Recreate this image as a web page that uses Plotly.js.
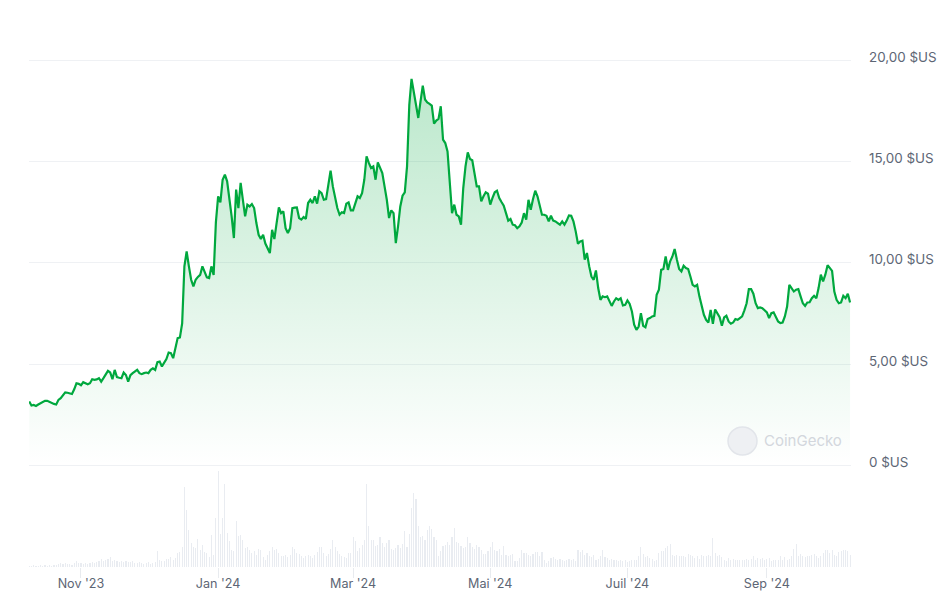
<!DOCTYPE html>
<html>
<head>
<meta charset="utf-8">
<script src="https://cdn.plot.ly/plotly-3.0.1.min.js"></script>
<style>
html,body{margin:0;padding:0;background:#fff;}
#chart{width:950px;height:611px;}
</style>
</head>
<body>
<div id="chart"></div>
<script>
// Daily series starting 2023-10-09
const startDate = '2023-10-09';
const dayMs = 86400000;

const prices = [
3.15,2.95,2.98,2.93,3.00,3.06,3.12,3.18,3.18,3.12,3.06,3.03,3.00,3.23,3.31,3.45,3.60,3.58,3.56,3.52,
3.75,4.05,4.02,3.95,4.10,4.05,4.00,4.05,4.25,4.22,4.24,4.30,4.13,4.30,4.46,4.66,4.58,4.25,4.71,4.35,
4.32,4.30,4.58,4.46,4.13,4.45,4.55,4.63,4.71,4.55,4.50,4.55,4.58,4.55,4.71,4.79,4.71,5.09,5.12,4.88,
5.04,5.24,5.57,5.54,5.29,5.78,6.28,6.31,7.00,9.82,10.56,9.82,9.16,8.83,9.16,9.30,9.40,9.82,9.57,9.28,
9.24,9.82,9.40,12.00,13.28,12.98,14.10,14.35,14.02,13.28,12.29,11.22,13.61,12.70,13.94,13.11,12.29,12.87,12.78,12.90,
12.70,11.96,11.38,11.17,11.38,10.95,10.70,10.48,11.63,11.17,11.96,12.73,12.45,12.54,11.71,11.47,11.71,12.70,12.72,12.73,
12.21,12.13,12.26,12.17,12.95,13.11,12.95,13.28,12.92,13.53,13.44,13.11,13.14,13.77,14.55,13.77,13.20,12.70,12.37,12.49,
12.45,12.92,12.98,12.59,12.59,12.95,13.28,13.20,13.44,14.10,15.26,14.93,14.68,14.76,14.10,14.96,14.68,14.43,13.77,13.11,
12.21,12.59,12.45,10.97,11.80,12.78,13.31,13.48,14.76,17.80,19.08,18.50,17.89,17.15,17.97,18.75,18.06,17.92,17.85,17.76,
16.87,17.02,17.10,17.73,16.08,15.91,15.50,13.94,12.45,12.87,12.37,12.29,11.88,13.69,14.76,15.45,15.12,15.06,14.43,13.77,
13.77,13.03,13.28,13.48,13.41,12.87,13.20,13.48,13.56,13.20,13.00,12.82,12.45,12.08,12.16,11.88,11.85,11.71,11.80,11.99,
12.45,12.13,13.11,12.62,13.14,13.56,13.28,12.87,12.37,12.37,12.32,12.04,12.32,12.08,12.04,11.96,11.88,12.04,11.88,12.08,
12.34,12.32,12.04,11.55,10.94,11.05,11.09,10.15,10.48,9.82,9.32,9.16,9.62,8.75,8.17,8.34,8.30,8.34,8.09,7.87,
8.09,8.25,8.17,8.25,7.89,7.92,8.14,7.97,7.59,6.94,6.69,6.85,7.51,6.89,6.82,7.22,7.27,7.35,7.38,8.42,
8.67,9.65,9.69,10.31,9.65,10.07,10.31,10.68,10.15,9.69,9.57,9.85,9.74,9.69,9.32,8.91,8.83,8.91,8.34,7.84,
7.43,7.18,7.05,7.67,6.98,7.69,7.48,7.31,6.89,7.30,7.38,7.10,6.99,7.05,7.22,7.18,7.27,7.35,7.65,8.00,
8.70,8.70,8.47,8.00,7.76,7.79,7.76,7.64,7.55,7.27,7.51,7.55,7.35,7.10,7.02,7.05,7.35,7.84,8.91,8.75,
8.58,8.67,8.70,8.34,8.00,7.87,8.04,8.05,8.25,8.37,8.25,8.75,9.41,9.08,9.41,9.88,9.74,9.60,8.58,8.17,
8.00,8.04,8.37,8.25,8.47,8.04
];

// Relative trading volume (arbitrary units)
const volumes = [
1,1,1.5,1,1,1.5,1,1.5,1,1.5,1,2,2,3,4,3,4,3,3,2,
4,6,4,4,3,4,3,4,5,4,5,6,8,6,7,8,10,6,7,6,
5,6,5,6,5,5,6,4,4,5,4,3,4,5,3,4,5,16,7,6,
6,8,8,10,7,9,14,15,20,80,57,37,24,20,19,28,17,22,15,14,
10,32,12,49,96,33,49,83,34,26,17,16,46,31,32,27,19,20,17,14,
16,12,18,17,10,7,12,16,20,17,18,14,11,11,12,10,12,20,18,14,
13,11,9,11,12,11,9,12,15,20,20,14,11,13,18,27,20,16,13,11,
10,9,14,14,30,26,16,19,22,27,83,41,27,27,21,22,30,24,20,24,
27,18,17,19,22,19,23,36,20,33,59,74,68,41,30,31,27,37,41,38,
30,27,11,16,21,22,25,22,30,39,25,24,21,19,20,30,24,20,18,22,
20,17,13,13,16,20,25,17,16,18,12,21,12,11,12,13,6,6,9,17,
14,14,12,11,13,15,15,11,15,7,4,6,9,10,8,7,8,7,6,7,
8,7,8,6,17,15,17,12,14,11,10,12,7,8,11,17,10,9,7,8,
7,7,6,7,6,7,5,6,7,7,7,11,20,13,10,11,9,8,6,7,
14,16,16,19,21,23,12,11,12,11,11,11,10,13,12,11,9,11,8,12,
11,11,12,11,29,14,11,12,10,7,6,9,7,8,7,7,7,7,7,8,
7,8,11,7,9,8,9,7,8,9,6,7,7,7,11,7,10,7,8,11,
18,23,11,13,11,10,11,11,12,13,11,9,11,14,17,17,14,17,12,11,
15,16,17,17,16,12
];

const tickDates = ['2023-11-01','2024-01-01','2024-03-01','2024-05-01','2024-07-01','2024-09-01'];
const tickLabels = ["Nov '23","Jan '24","Mar '24","Mai '24","Juil '24","Sep '24"];
const priceTicks = [0,5,10,15,20];
const priceTickLabels = ['0 $US','5,00 $US','10,00 $US','15,00 $US','20,00 $US'];

const textColor = '#5d6675';
const fontFam = 'Inter, "Noto Sans", sans-serif';

const priceTrace = {
  type: 'scatter', mode: 'lines',
  x0: startDate, dx: dayMs, y: prices,
  xaxis: 'x', yaxis: 'y',
  line: {color: '#00a83e', width: 2.2},
  fill: 'tozeroy',
  fillgradient: {
    type: 'vertical', start: 0, stop: 20,
    colorscale: [[0, 'rgba(0,168,62,0.0)'], [1, 'rgba(0,168,62,0.28)']]
  },
  hoverinfo: 'skip'
};

const volTrace = {
  type: 'bar',
  x0: startDate, dx: dayMs, y: volumes,
  xaxis: 'x', yaxis: 'y2',
  width: dayMs * 0.5,
  marker: {color: '#e9ecf1', line: {width: 0}},
  hoverinfo: 'skip'
};

const layout = {
  width: 950, height: 611,
  margin: {l: 29, r: 99, t: 40, b: 44},
  paper_bgcolor: '#ffffff', plot_bgcolor: '#ffffff',
  showlegend: false,
  font: {family: fontFam, color: textColor, size: 13},
  bargap: 0,
  xaxis: {
    type: 'date', anchor: 'y2',
    range: ['2023-10-08 21:30', '2024-10-08 10:00'],
    tickvals: tickDates, ticktext: tickLabels,
    showgrid: false, zeroline: false, showline: false,
    ticks: 'outside', ticklen: 10, tickcolor: '#e8ebef', tickwidth: 1,
    ticklabelstandoff: -5,
    tickfont: {family: fontFam, size: 12.6, color: textColor}
  },
  yaxis: {
    domain: [0.1892, 1], range: [-0.1, 21], side: 'right', anchor: 'x',
    tickvals: priceTicks, ticktext: priceTickLabels,
    showgrid: true, gridcolor: '#eff1f4', gridwidth: 1,
    zeroline: false, showline: false, ticks: '',
    ticklabelstandoff: 17, ticklabelshift: -3,
    tickfont: {family: fontFam, size: 13.4, color: textColor}
  },
  yaxis2: {
    domain: [0, 0.188], range: [0, 99], anchor: 'x',
    showgrid: false, zeroline: false, showline: false,
    showticklabels: false, ticks: ''
  },
  shapes: [
    {type: 'circle', xref: 'paper', yref: 'paper',
     x0: (728-29)/822, x1: (757-29)/822, y0: (567-455)/527, y1: (567-427)/527,
     fillcolor: '#eef0f3', line: {color: '#e2e5ea', width: 1.5}, layer: 'above'}
  ],
  annotations: [
    {text: 'CoinGecko', xref: 'paper', yref: 'paper',
     x: (762-29)/822, y: (567-440)/527, xanchor: 'left', yanchor: 'middle',
     showarrow: false, font: {family: fontFam, size: 15, color: '#d3d7dd'}}
  ]
};

Plotly.newPlot('chart', [volTrace, priceTrace], layout, {staticPlot: true, displayModeBar: false});
</script>
</body>
</html>
